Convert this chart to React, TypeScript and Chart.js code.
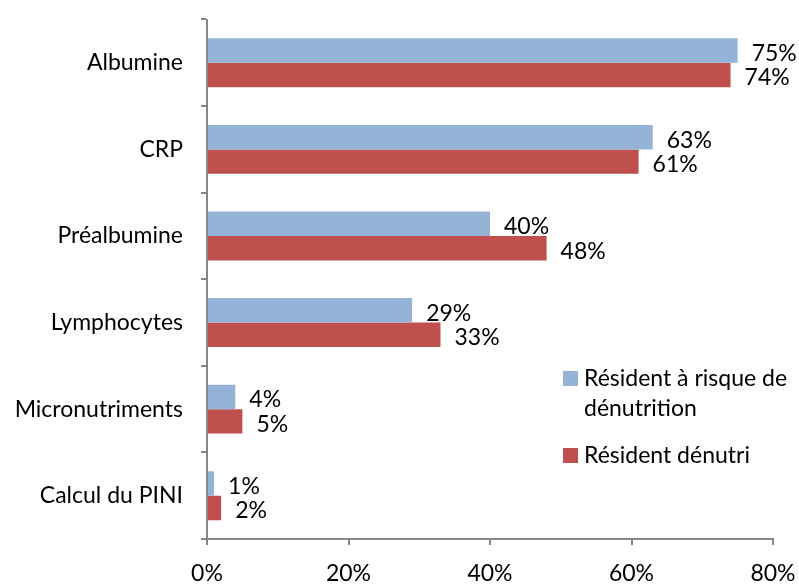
import React, { useEffect, useRef } from "react";
import { Chart, registerables } from "chart.js";

Chart.register(...registerables);

const categories = ["Albumine", "CRP", "Préalbumine", "Lymphocytes", "Micronutriments", "Calcul du PINI"];
const atRiskValues = [75, 63, 40, 29, 4, 1];
const undernourishedValues = [74, 61, 48, 33, 5, 2];
const seriesNames = [["Résident à risque de", "dénutrition"], ["Résident dénutri"]];
const seriesColors = ["#95B3D7", "#C0504D"];

const FONT = "Lato, 'DejaVu Sans', sans-serif";
const FONT_SIZE = 23;
const AXIS_GREY = "#868686";

const valueLabels = {
  id: "valueLabels",
  afterDatasetsDraw(chart: any) {
    const ctx = chart.ctx;
    ctx.save();
    ctx.font = `${FONT_SIZE}px ${FONT}`;
    ctx.fillStyle = "#000";
    ctx.textAlign = "left";
    ctx.textBaseline = "middle";
    chart.data.datasets.forEach((ds: any, di: number) => {
      const meta = chart.getDatasetMeta(di);
      meta.data.forEach((bar: any, i: number) => {
        ctx.fillText(`${ds.data[i]}%`, bar.x + 14, bar.y + 3);
      });
    });
    ctx.restore();
  },
};

const sideLegend = {
  id: "sideLegend",
  afterDraw(chart: any) {
    const ctx = chart.ctx;
    ctx.save();
    ctx.font = `${FONT_SIZE}px ${FONT}`;
    ctx.textAlign = "left";
    ctx.textBaseline = "alphabetic";
    const entries = [
      { top: 371, lines: seriesNames[0], color: seriesColors[0] },
      { top: 448, lines: seriesNames[1], color: seriesColors[1] },
    ];
    entries.forEach((e) => {
      ctx.fillStyle = e.color;
      ctx.fillRect(563, e.top, 15, 15);
      ctx.fillStyle = "#000";
      e.lines.forEach((line, li) => {
        ctx.fillText(line, 584, e.top + 15 + li * 30);
      });
    });
    ctx.restore();
  },
};

export default function App() {
  const canvasRef = useRef<HTMLCanvasElement | null>(null);

  useEffect(() => {
    if (!canvasRef.current) return;
    const chart = new Chart(canvasRef.current, {
      type: "bar",
      data: {
        labels: categories,
        datasets: [
          {
            label: seriesNames[0].join(" "),
            data: atRiskValues,
            backgroundColor: seriesColors[0],
            barPercentage: 1,
            categoryPercentage: 0.565,
          },
          {
            label: seriesNames[1].join(" "),
            data: undernourishedValues,
            backgroundColor: seriesColors[1],
            barPercentage: 1,
            categoryPercentage: 0.565,
          },
        ],
      },
      options: {
        indexAxis: "y",
        responsive: false,
        animation: false,
        layout: { padding: { top: 19.5, right: 26, left: 0, bottom: 0 } },
        plugins: {
          legend: { display: false },
          tooltip: { enabled: false },
        },
        scales: {
          x: {
            min: 0,
            max: 80,
            ticks: {
              stepSize: 20,
              callback: (v: any) => `${v}%`,
              color: "#000",
              font: { family: FONT, size: FONT_SIZE },
              padding: 15,
              maxRotation: 0,
            },
            grid: {
              drawOnChartArea: false,
              drawTicks: true,
              tickLength: 6,
              color: AXIS_GREY,
              lineWidth: 2,
            },
            border: { color: AXIS_GREY, width: 2 },
            afterFit: (scale: any) => {
              scale.height = 46;
              scale.paddingLeft = 0;
              scale.paddingRight = 0;
            },
          },
          y: {
            ticks: {
              color: "#000",
              font: { family: FONT, size: FONT_SIZE },
              padding: 18,
            },
            grid: {
              drawOnChartArea: false,
              drawTicks: true,
              tickLength: 6,
              color: AXIS_GREY,
              lineWidth: 2,
              offset: true,
            },
            border: { color: AXIS_GREY, width: 2 },
            afterFit: (scale: any) => {
              scale.width = 207;
              scale.paddingTop = 0;
              scale.paddingBottom = 0;
            },
          },
        },
      },
      plugins: [valueLabels, sideLegend],
    });
    return () => chart.destroy();
  }, []);

  return (
    <div style={{ position: "absolute", left: 0, top: 0, width: 799, height: 585, background: "#fff" }}>
      <canvas ref={canvasRef} width={799} height={585} />
    </div>
  );
}
